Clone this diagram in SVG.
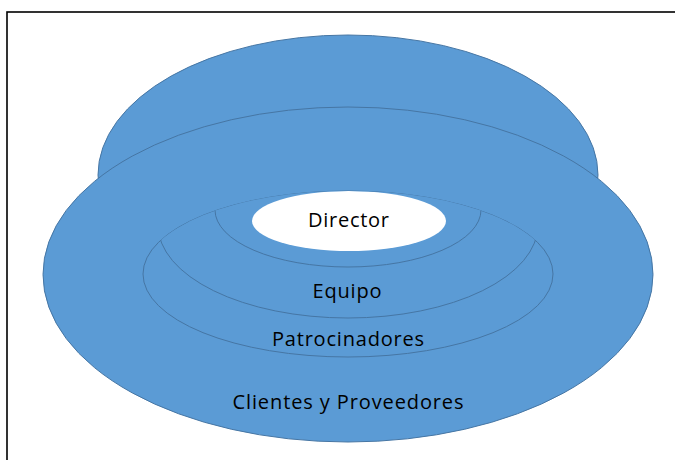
<svg xmlns="http://www.w3.org/2000/svg" width="675" height="460" viewBox="0 0 675 460">
  <defs>
    <clipPath id="clipPatro">
      <ellipse cx="348" cy="274" rx="205" ry="83"/>
    </clipPath>
    <style>
      .ring { fill: #5B9BD5; stroke: #4676A4; stroke-width: 1; }
      .lbl { font-family: "Open Sans", "Lato", "Liberation Sans", sans-serif; font-size: 20px; font-weight: normal; fill: #000; text-anchor: middle; }
    </style>
  </defs>
  <rect x="0" y="0" width="675" height="460" fill="#fff"/>
  <rect x="7" y="12" width="720" height="520" fill="none" stroke="#000" stroke-width="1.6"/>

  <g id="clientes">
    <ellipse class="ring" cx="348" cy="175" rx="250" ry="140"/>
    <ellipse class="ring" cx="348" cy="274.5" rx="305" ry="167.5"/>
    <text class="lbl" x="348" y="409" textLength="231" lengthAdjust="spacing">Clientes y Proveedores</text>
  </g>
  <g id="patrocinadores">
    <ellipse class="ring" cx="348" cy="274" rx="205" ry="83"/>
    <text class="lbl" x="348" y="346" textLength="152" lengthAdjust="spacing">Patrocinadores</text>
  </g>
  <g id="equipo">
    <ellipse class="ring" cx="348" cy="225" rx="190" ry="93" clip-path="url(#clipPatro)"/>
    <text class="lbl" x="347" y="297.5" textLength="69" lengthAdjust="spacing">Equipo</text>
  </g>
  <g id="director-ring">
    <ellipse class="ring" cx="348" cy="210" rx="133" ry="57" clip-path="url(#clipPatro)"/>
  </g>
  <g id="director">
    <ellipse cx="349" cy="221" rx="97" ry="30" fill="#fff" clip-path="url(#clipPatro)"/>
    <text class="lbl" x="348.5" y="227" textLength="81" lengthAdjust="spacing">Director</text>
  </g>
  <g id="connectors"/>
</svg>
